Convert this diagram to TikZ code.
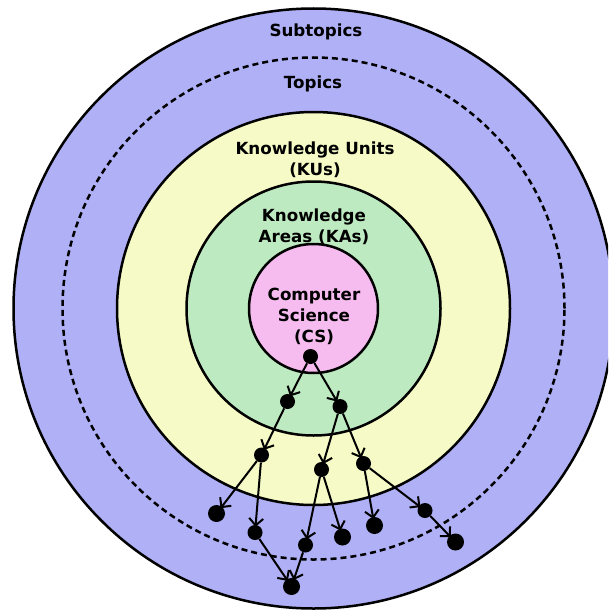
\documentclass[tikz,border=0pt]{standalone}
\usepackage{fontspec}
\setmainfont{DejaVu Sans}
\usetikzlibrary{arrows.meta}

\definecolor{subblue}{RGB}{175,176,245}
\definecolor{kuyellow}{RGB}{246,250,198}
\definecolor{kagreen}{RGB}{190,234,193}
\definecolor{cspink}{RGB}{246,188,240}

\tikzset{
  ring/.style={draw, line width=2.5pt},
  ringtext/.style={align=center, inner sep=0pt, font=\fontsize{16.7}{21}\selectfont\bfseries},
  dot/.style={circle, fill=black, inner sep=0pt, minimum size=15pt},
  bigdot/.style={circle, fill=black, inner sep=0pt, minimum size=17pt},
  link/.style={-{Straight Barb[length=7pt,width=14pt]}, line width=2pt, shorten >=-2pt}
}

\begin{document}
\begin{tikzpicture}[x=1pt,y=-1pt]
    \useasboundingbox (0,0) rectangle (608,610);
    \clip (0,0) rectangle (608,610);

    % nested areas
    \coordinate (C) at (313.5,308.5);
    \draw[ring, fill=subblue] (C) circle (300pt);
    \draw[line width=2.5pt, dash pattern=on 6pt off 4pt] (C) circle (251pt);
    \draw[ring, fill=kuyellow] (C) circle (196.5pt);
    \draw[ring, fill=kagreen] (C) circle (127pt);
    \draw[ring, fill=cspink] (C) circle (64.5pt);

    \node[ringtext] (Lsub) at (316,32) {Subtopics};
    \node[ringtext] (Ltop) at (313,84) {Topics};
    \node[ringtext] (Lku) at (315,160) {Knowledge Units\\(KUs)};
    \node[ringtext] (Lka) at (314,227) {Knowledge\\Areas (KAs)};
    \node[ringtext] (Lcs) at (314,316) {Computer\\Science\\(CS)};

    % hierarchy
    \node[dot] (cs) at (310.5,356.5) {};
    \node[dot] (ka1) at (287.5,401.5) {};
    \node[dot] (ka2) at (340,406.5) {};
    \node[dot] (ku1) at (261.5,455) {};
    \node[dot] (ku2) at (321.5,469.5) {};
    \node[dot] (ku3) at (363.5,463.5) {};
    \node[bigdot] (t1) at (216.5,513.5) {};
    \node[dot] (t2) at (255,532.5) {};
    \node[dot] (t3) at (305.5,545) {};
    \node[bigdot] (t4) at (342.5,537) {};
    \node[bigdot] (t5) at (374.5,525.5) {};
    \node[dot] (t6) at (425,510.5) {};
    \node[bigdot] (t7) at (455.5,542) {};
    \node[bigdot] (s1) at (291.5,586.5) {};

    \draw[link] (cs) -- (ka1);
    \draw[link] (cs) -- (ka2);
    \draw[link] (ka1) -- (ku1);
    \draw[link] (ka2) -- (ku2);
    \draw[link] (ka2) -- (ku3);
    \draw[link] (ku1) -- (t1);
    \draw[link] (ku1) -- (t2);
    \draw[link] (ku2) -- (t3);
    \draw[link] (ku2) -- (t4);
    \draw[link] (ku3) -- (t5);
    \draw[link] (ku3) -- (t6);
    \draw[link] (t6) -- (t7);
    \draw[link] (t2) -- (s1);
    \draw[link] (t3) -- (s1);
  \end{tikzpicture}
\end{document}
